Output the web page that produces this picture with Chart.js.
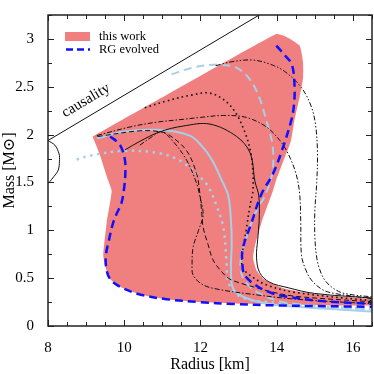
<!DOCTYPE html>
<html>
<head>
<meta charset="utf-8">
<script src="https://cdn.jsdelivr.net/npm/chart.js@4.4.0/dist/chart.umd.min.js"></script>
<style>
  html, body { margin: 0; padding: 0; background: #fff; }
  #wrap { width: 374px; height: 374px; }
</style>
</head>
<body>
<div id="wrap"><canvas id="mrChart"></canvas></div>
<script>
// --- DATA (radius in km, mass in solar masses) ---
const xTicks = [8, 10, 12, 14, 16];
const yTicks = [0, 0.5, 1, 1.5, 2, 2.5, 3];

// shaded band "this work"
const bandR = [9.17, 11.0, 13.97, 14.21, 14.6, 14.69, 14.69, 14.6, 14.47, 14.37, 14.21, 13.99, 13.9, 13.6, 13.43, 13.38, 13.47, 13.69, 14.21, 15.09, 16.6, 16.6, 14.0, 12.86, 11.98, 11.11, 10.41, 9.89, 9.63, 9.52, 9.45, 9.54, 9.67, 9.57, 9.36, 9.17];
const bandM = [1.98, 2.39, 3.05, 3.03, 2.93, 2.76, 2.59, 2.39, 2.16, 1.93, 1.76, 1.53, 1.41, 1.08, 0.84, 0.71, 0.58, 0.48, 0.39, 0.33, 0.275, 0.215, 0.225, 0.235, 0.25, 0.28, 0.33, 0.41, 0.49, 0.6, 0.74, 1.08, 1.41, 1.53, 1.79, 1.98];

// RG evolved (two branches)
const rgLeftR = [9.63, 9.8, 9.93, 10.02, 10.03, 10.0, 9.93, 9.81, 9.71, 9.6, 9.52, 9.53, 9.63, 9.89, 10.41, 11.11, 11.98, 12.86, 14.0, 16.6];
const rgLeftM = [1.98, 1.93, 1.86, 1.73, 1.6, 1.45, 1.29, 1.18, 1.08, 0.9, 0.74, 0.6, 0.49, 0.41, 0.33, 0.28, 0.25, 0.23, 0.215, 0.2];
const rgRightR = [13.99, 14.21, 14.4, 14.47, 14.45, 14.39, 14.16, 13.9, 13.6, 13.34, 13.11, 13.1, 13.16, 13.51, 13.9, 14.21, 15.2, 16.6];
const rgRightM = [2.93, 2.83, 2.73, 2.49, 2.3, 2.16, 1.86, 1.59, 1.38, 1.08, 0.81, 0.65, 0.53, 0.41, 0.34, 0.31, 0.26, 0.23];

// light blue curves
const lbDashR = [11.24, 11.8, 12.38, 12.99, 13.43, 13.77, 13.9, 13.88, 13.69, 13.5, 13.25, 13.08, 13.05, 13.2, 13.6, 14.3, 16.6];
const lbDashM = [2.63, 2.7, 2.73, 2.69, 2.49, 2.09, 1.86, 1.59, 1.36, 1.23, 0.98, 0.74, 0.59, 0.45, 0.33, 0.24, 0.17];
const lbSolidR = [9.28, 9.97, 10.85, 11.72, 12.1, 12.35, 12.55, 12.73, 12.8, 12.82, 12.8, 12.86, 13.21, 14.0, 16.6];
const lbSolidM = [1.96, 2.03, 2.05, 1.99, 1.85, 1.7, 1.53, 1.36, 1.1, 0.86, 0.6, 0.39, 0.29, 0.22, 0.15];
const lbDotR = [8.75, 9.1, 9.97, 10.85, 11.46, 11.98, 12.2, 12.42, 12.6, 12.68, 12.73, 12.95, 13.5, 16.6];
const lbDotM = [1.74, 1.78, 1.83, 1.81, 1.73, 1.56, 1.46, 1.26, 1.03, 0.69, 0.46, 0.33, 0.26, 0.17];

// black curves
const solidR = [10.02, 10.41, 10.94, 11.55, 12.25, 12.95, 13.3, 13.43, 13.53, 13.54, 13.5, 13.47, 13.55, 13.8, 14.3, 15.0, 16.6];
const solidM = [1.84, 1.93, 2.03, 2.09, 2.11, 1.98, 1.81, 1.51, 1.36, 1.1, 0.9, 0.72, 0.56, 0.46, 0.4, 0.34, 0.29];
const dotR = [10.54, 11.1, 11.72, 12.29, 12.81, 13.16, 13.34, 13.38, 13.3, 13.21, 13.08, 13.12, 13.3, 13.73, 14.5, 16.6];
const dotM = [2.28, 2.35, 2.41, 2.43, 2.29, 2.03, 1.76, 1.43, 1.26, 1.03, 0.69, 0.6, 0.53, 0.43, 0.35, 0.26];
const dashDotR = [9.28, 10.15, 10.85, 11.55, 12.0, 12.6, 13.2, 13.73, 14.08, 14.3, 14.5, 14.6, 14.63, 14.65, 14.75, 14.91, 15.2, 15.52, 16.6];
const dashDotM = [1.99, 2.08, 2.13, 2.16, 2.18, 2.2, 2.18, 2.08, 1.94, 1.8, 1.6, 1.39, 1.1, 0.74, 0.6, 0.48, 0.38, 0.34, 0.28];
const dashDot2R = [12.4, 12.8, 13.34, 13.8, 14.21, 14.65, 14.9, 15.02, 15.07, 15.05, 15.0, 15.0, 15.04, 15.12, 15.26, 15.5, 15.78, 16.6];
const dashDot2M = [2.72, 2.76, 2.78, 2.74, 2.66, 2.49, 2.3, 2.1, 1.8, 1.5, 1.2, 0.95, 0.74, 0.6, 0.48, 0.39, 0.34, 0.3];
const dashedR = [9.3, 10.41, 10.94, 11.2, 11.64, 11.9, 11.98, 12.03, 12.07, 12.2, 12.33, 12.55, 12.77, 13.2, 13.56, 13.82, 14.5, 16.6];
const dashedM = [1.98, 2.04, 2.03, 1.99, 1.83, 1.59, 1.4, 1.2, 1.03, 0.85, 0.69, 0.57, 0.49, 0.43, 0.39, 0.36, 0.31, 0.25];
const dashDot3R = [10.41, 10.7, 10.98, 11.28, 11.64, 11.9, 11.98, 12.07, 11.95, 11.81, 11.78, 11.81, 12.07, 12.51, 13.38, 14.5, 16.6];
const dashDot3M = [1.89, 1.97, 2.03, 1.93, 1.73, 1.49, 1.36, 1.16, 1.0, 0.83, 0.65, 0.53, 0.43, 0.38, 0.33, 0.28, 0.23];
const edgeR = [7.9, 8.0, 8.18, 8.29, 8.3, 8.27, 8.15, 8.05, 7.95];
const edgeM = [1.99, 1.94, 1.89, 1.8, 1.72, 1.63, 1.56, 1.51, 1.47];
const causalR = [7.5, 13.6];
const causalM = [1.82, 3.264];

const pts = (rs, ms) => rs.map((r, i) => ({ x: r, y: ms[i] }));

const serif = "'Liberation Serif', 'DejaVu Serif', serif";
const pink = '#f08080';
const rgBlue = '#1010ff';
const lightBlue = '#a6cfe8';

function curve(rs, ms, color, width, dash, extra) {
    return Object.assign({
        data: pts(rs, ms),
        showLine: true,
        borderColor: color,
        borderWidth: width,
        borderDash: dash,
        pointRadius: 0,
        tension: 0.35,
        fill: false,
        order: 1
    }, extra || {});
}

// inward ticks + frame, drawn from the scales
const frameTicks = {
    id: 'frameTicks',
    afterDraw(chart) {
        const { ctx, chartArea: a, scales: { x, y } } = chart;
        ctx.save();
        ctx.strokeStyle = '#222';
        ctx.lineWidth = 1;
        ctx.beginPath();
        for (let v = 8; v <= 16.5; v += 0.5) {
            const px = Math.round(x.getPixelForValue(v)) + 0.5;
            const len = xTicks.includes(v) ? 6 : 4;
            ctx.moveTo(px, a.bottom); ctx.lineTo(px, a.bottom - len);
            ctx.moveTo(px, a.top); ctx.lineTo(px, a.top + len);
        }
        for (let v = 0; v <= 3.25; v += 0.25) {
            const py = Math.round(y.getPixelForValue(v)) + 0.5;
            const len = yTicks.includes(v) ? 6 : 4;
            ctx.moveTo(a.left, py); ctx.lineTo(a.left + len, py);
            ctx.moveTo(a.right, py); ctx.lineTo(a.right - len, py);
        }
        ctx.stroke();
        ctx.lineWidth = 1.5;
        ctx.strokeRect(a.left, a.top, a.right - a.left, a.bottom - a.top);
        ctx.restore();
    }
};

// legend box and causality label
const annotations = {
    id: 'annotations',
    afterDatasetsDraw(chart) {
        const { ctx, chartArea: a, scales: { x, y } } = chart;
        ctx.save();
        // legend
        const lx = a.left + 17, ly = a.top + 17;
        ctx.fillStyle = pink;
        ctx.fillRect(lx, ly, 25, 9);
        ctx.strokeStyle = rgBlue;
        ctx.lineWidth = 2.5;
        ctx.setLineDash([7, 4]);
        ctx.beginPath();
        ctx.moveTo(lx + 1, ly + 17.5); ctx.lineTo(lx + 25, ly + 17.5);
        ctx.stroke();
        ctx.setLineDash([]);
        ctx.fillStyle = '#000';
        ctx.font = '12.5px ' + serif;
        ctx.textBaseline = 'middle';
        ctx.fillText('this work', lx + 34, ly + 4.5);
        ctx.fillText('RG evolved', lx + 34, ly + 17.5);
        // causality label along the line
        const x0 = x.getPixelForValue(causalR[0]), y0 = y.getPixelForValue(causalM[0]);
        const x1 = x.getPixelForValue(causalR[1]), y1 = y.getPixelForValue(causalM[1]);
        const ang = Math.atan2(y1 - y0, x1 - x0);
        ctx.translate(x.getPixelForValue(9.05), y.getPixelForValue(2.32));
        ctx.rotate(ang);
        ctx.font = '15px ' + serif;
        ctx.textAlign = 'center';
        ctx.textBaseline = 'alphabetic';
        ctx.fillText('causality', 0, 0);
        ctx.restore();
    }
};

new Chart(document.getElementById('mrChart'), {
    type: 'scatter',
    data: {
        datasets: [
            curve(rgLeftR, rgLeftM, rgBlue, 2.5, [8, 5], { order: 0 }),
            curve(rgRightR, rgRightM, rgBlue, 2.5, [8, 5], { order: 0 }),
            curve(solidR, solidM, '#111', 1, []),
            curve(dotR, dotM, '#111', 1.6, [1.6, 3.2]),
            curve(dashDotR, dashDotM, '#111', 1, [5, 2, 1.5, 2]),
            curve(dashDot2R, dashDot2M, '#111', 1, [5, 2, 1.5, 2, 1.5, 2]),
            curve(dashedR, dashedM, '#111', 1, [5, 3]),
            curve(dashDot3R, dashDot3M, '#111', 1, [5, 2, 1.5, 2]),
            curve(edgeR, edgeM, '#111', 1, []),
            curve(causalR, causalM, '#111', 1, [], { tension: 0 }),
            curve(lbDashR, lbDashM, lightBlue, 2, [8, 5], { order: 2 }),
            curve(lbSolidR, lbSolidM, lightBlue, 2, [], { order: 2 }),
            curve(lbDotR, lbDotM, lightBlue, 2.5, [2.5, 4.5], { order: 2 }),
            {
                data: pts(bandR, bandM),
                showLine: true,
                borderWidth: 0,
                borderColor: 'rgba(0,0,0,0)',
                backgroundColor: pink,
                pointRadius: 0,
                tension: 0.15,
                fill: 'shape',
                order: 5
            }
        ]
    },
    options: {
        responsive: true,
        maintainAspectRatio: false,
        animation: false,
        layout: { padding: { top: 1, right: 2, left: 0, bottom: 0 } },
        plugins: { legend: { display: false }, tooltip: { enabled: false } },
        scales: {
            x: {
                type: 'linear',
                min: 8, max: 16.5,
                grid: { display: false },
                border: { display: false },
                ticks: {
                    stepSize: 2, includeBounds: false, padding: 5,
                    color: '#000', font: { family: serif, size: 15 },
                    callback: v => xTicks.includes(v) ? String(v) : ''
                },
                title: {
                    display: true, text: 'Radius [km]', color: '#000',
                    font: { family: serif, size: 16 }, padding: { top: 0, bottom: 0 }
                },
                afterFit: s => { s.height = 48; }
            },
            y: {
                type: 'linear',
                min: 0, max: 3.25,
                grid: { display: false },
                border: { display: false },
                ticks: {
                    stepSize: 0.5, includeBounds: false, padding: 6,
                    color: '#000', font: { family: serif, size: 15 },
                    callback: v => yTicks.includes(v) ? String(v) : ''
                },
                title: {
                    display: true, text: 'Mass [M\u2299]', color: '#000',
                    font: { family: serif, size: 16 }, padding: { top: 0, bottom: 0 }
                },
                afterFit: s => { s.width = 48; }
            }
        }
    },
    plugins: [frameTicks, annotations]
});
</script>
</body>
</html>
